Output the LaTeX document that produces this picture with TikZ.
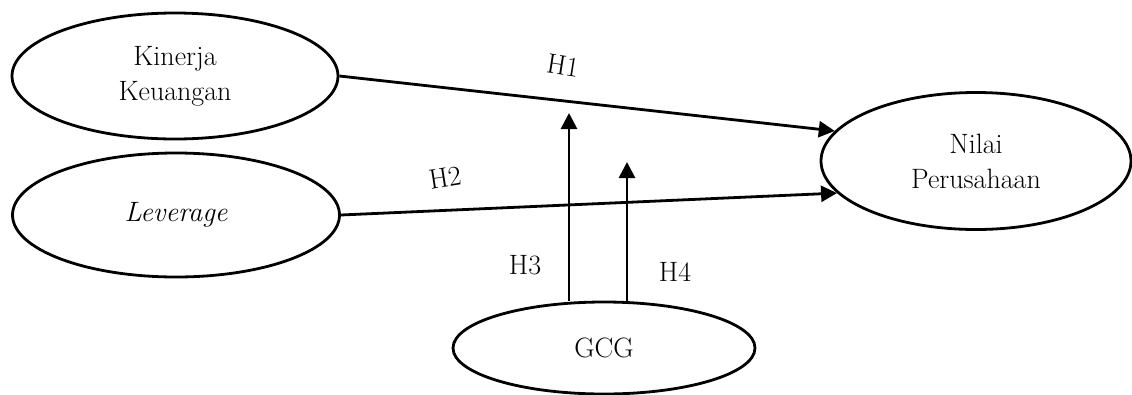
\documentclass[tikz,border=0pt]{standalone}
\usetikzlibrary{shapes.geometric,arrows.meta}
\begin{document}
\begin{tikzpicture}[x=1pt,y=-1pt,
  latent/.style={draw,ellipse,line width=2.8pt,inner sep=0pt,align=center,font=\fontsize{28}{35}\selectfont},
  conn/.style={line width=2.8pt,-{Triangle[length=16pt,width=16pt]}},
  lbl/.style={font=\fontsize{28}{30}\selectfont,inner sep=0pt}]
\useasboundingbox (0,0) rectangle (1132,394);
\node[latent,minimum width=326pt,minimum height=126pt] (kk) at (175,76) {Kinerja\\Keuangan};
\node[latent,minimum width=327pt,minimum height=124pt] (lev) at (176,215) {\itshape Leverage};
\node[latent,minimum width=310pt,minimum height=137pt] (np) at (976,161) {Nilai\\Perusahaan};
\node[latent,minimum width=302pt,minimum height=92pt] (gcg) at (604,348) {GCG};
\coordinate (t3) at (569,113);
\coordinate (t4) at (627,162);
\draw[conn] (kk.east) -- (np.168);
\draw[conn] (lev.east) -- (np.193);
\draw[conn] (t3 |- gcg.north) -- (t3);
\draw[conn] (t4 |- gcg.north) -- (t4);
\node[lbl,rotate=-9] (h1) at (563,66) {H1};
\node[lbl,rotate=9] (h2) at (445,178) {H2};
\node[lbl] (h3) at (525,265) {H3};
\node[lbl] (h4) at (675,272) {H4};
\end{tikzpicture}
\end{document}
